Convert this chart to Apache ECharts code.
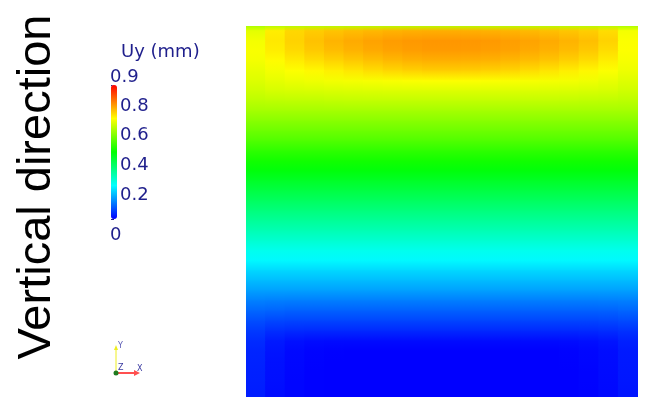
<!DOCTYPE html>
<html>
<head>
<meta charset="utf-8">
<script src="https://cdn.jsdelivr.net/npm/echarts@6/dist/echarts.min.js"></script>
<style>
  html, body { margin: 0; padding: 0; background: #ffffff; }
  #chart { width: 654px; height: 398px; }
</style>
</head>
<body>
<div id="chart"></div>
<script>
// Vertical displacement Uy (mm) sampled on 20 columns across the block and 39 heights,
// listed from the top face (height 1) down to the bottom face (height 0).
const xCells = ['0.025','0.075','0.125','0.175','0.225','0.275','0.325','0.375','0.425','0.475',
                '0.525','0.575','0.625','0.675','0.725','0.775','0.825','0.875','0.925','0.975'];
const yRows = [1.000, 0.987, 0.960, 0.933, 0.906, 0.879, 0.852, 0.825, 0.798, 0.771,
               0.744, 0.717, 0.690, 0.663, 0.636, 0.609, 0.582, 0.555, 0.528, 0.501,
               0.474, 0.447, 0.420, 0.394, 0.367, 0.340, 0.313, 0.286, 0.259, 0.232,
               0.205, 0.178, 0.151, 0.124, 0.097, 0.070, 0.043, 0.016, 0.000];
const uy = [
  [0.60,0.61,0.61,0.61,0.61,0.61,0.61,0.61,0.61,0.61,0.61,0.61,0.61,0.61,0.61,0.61,0.61,0.61,0.61,0.60],
  [0.65,0.69,0.71,0.72,0.727,0.733,0.738,0.742,0.745,0.746,0.746,0.745,0.743,0.74,0.736,0.731,0.725,0.718,0.705,0.665],
  [0.665,0.695,0.715,0.73,0.742,0.75,0.757,0.762,0.766,0.768,0.768,0.767,0.765,0.761,0.756,0.75,0.742,0.732,0.715,0.672],
  [0.67,0.69,0.708,0.722,0.733,0.742,0.75,0.756,0.761,0.763,0.763,0.762,0.76,0.756,0.75,0.743,0.734,0.723,0.705,0.673],
  [0.665,0.678,0.692,0.703,0.713,0.722,0.73,0.737,0.742,0.745,0.745,0.744,0.742,0.738,0.732,0.725,0.716,0.705,0.69,0.668],
  [0.655,0.665,0.673,0.68,0.688,0.696,0.704,0.71,0.715,0.718,0.718,0.717,0.715,0.711,0.705,0.698,0.69,0.682,0.672,0.66],
  [0.645,0.653,0.658,0.662,0.665,0.667,0.669,0.671,0.672,0.673,0.673,0.673,0.672,0.671,0.669,0.667,0.665,0.662,0.656,0.647],
  [0.632,0.638,0.64,0.641,0.642,0.643,0.644,0.645,0.645,0.645,0.645,0.645,0.645,0.645,0.644,0.643,0.642,0.641,0.639,0.633],
  [0.615,0.617,0.618,0.618,0.619,0.62,0.62,0.62,0.62,0.62,0.62,0.62,0.62,0.62,0.62,0.62,0.619,0.618,0.617,0.615],
  [0.595,0.595,0.595,0.595,0.595,0.595,0.595,0.595,0.595,0.595,0.595,0.595,0.595,0.595,0.595,0.595,0.595,0.595,0.595,0.595],
  [0.57,0.57,0.57,0.57,0.57,0.57,0.57,0.57,0.57,0.57,0.57,0.57,0.57,0.57,0.57,0.57,0.57,0.57,0.57,0.57],
  [0.545,0.545,0.545,0.545,0.545,0.545,0.545,0.545,0.545,0.545,0.545,0.545,0.545,0.545,0.545,0.545,0.545,0.545,0.545,0.545],
  [0.52,0.52,0.52,0.52,0.52,0.52,0.52,0.52,0.52,0.52,0.52,0.52,0.52,0.52,0.52,0.52,0.52,0.52,0.52,0.52],
  [0.49,0.49,0.49,0.49,0.49,0.49,0.49,0.49,0.49,0.49,0.49,0.49,0.49,0.49,0.49,0.49,0.49,0.49,0.49,0.49],
  [0.465,0.465,0.465,0.465,0.465,0.465,0.465,0.465,0.465,0.465,0.465,0.465,0.465,0.465,0.465,0.465,0.465,0.465,0.465,0.465],
  [0.44,0.44,0.44,0.44,0.44,0.44,0.44,0.44,0.44,0.44,0.44,0.44,0.44,0.44,0.44,0.44,0.44,0.44,0.44,0.44],
  [0.415,0.415,0.415,0.415,0.415,0.415,0.415,0.415,0.415,0.415,0.415,0.415,0.415,0.415,0.415,0.415,0.415,0.415,0.415,0.415],
  [0.39,0.39,0.39,0.39,0.39,0.39,0.39,0.39,0.39,0.39,0.39,0.39,0.39,0.39,0.39,0.39,0.39,0.39,0.39,0.39],
  [0.365,0.365,0.365,0.365,0.365,0.365,0.365,0.365,0.365,0.365,0.365,0.365,0.365,0.365,0.365,0.365,0.365,0.365,0.365,0.365],
  [0.34,0.34,0.34,0.34,0.34,0.34,0.34,0.34,0.34,0.34,0.34,0.34,0.34,0.34,0.34,0.34,0.34,0.34,0.34,0.34],
  [0.315,0.315,0.315,0.315,0.315,0.315,0.315,0.315,0.315,0.315,0.315,0.315,0.315,0.315,0.315,0.315,0.315,0.315,0.315,0.315],
  [0.29,0.29,0.29,0.29,0.29,0.29,0.29,0.29,0.29,0.29,0.29,0.29,0.29,0.29,0.29,0.29,0.29,0.29,0.29,0.29],
  [0.265,0.265,0.265,0.265,0.265,0.265,0.265,0.265,0.265,0.265,0.265,0.265,0.265,0.265,0.265,0.265,0.265,0.265,0.265,0.265],
  [0.24,0.24,0.24,0.24,0.24,0.24,0.24,0.24,0.24,0.24,0.24,0.24,0.24,0.24,0.24,0.24,0.24,0.24,0.24,0.24],
  [0.22,0.22,0.22,0.22,0.22,0.22,0.22,0.22,0.22,0.22,0.22,0.22,0.22,0.22,0.22,0.22,0.22,0.22,0.22,0.22],
  [0.19,0.19,0.19,0.19,0.19,0.19,0.19,0.19,0.19,0.19,0.19,0.19,0.19,0.19,0.19,0.19,0.19,0.19,0.19,0.19],
  [0.165,0.165,0.165,0.165,0.165,0.165,0.165,0.165,0.165,0.165,0.165,0.165,0.165,0.165,0.165,0.165,0.165,0.165,0.165,0.165],
  [0.14,0.14,0.14,0.14,0.14,0.14,0.14,0.14,0.14,0.14,0.14,0.14,0.14,0.14,0.14,0.14,0.14,0.14,0.14,0.14],
  [0.113,0.111,0.11,0.11,0.11,0.11,0.11,0.11,0.11,0.11,0.11,0.11,0.11,0.11,0.11,0.11,0.11,0.11,0.111,0.112],
  [0.09,0.087,0.085,0.085,0.085,0.085,0.085,0.085,0.085,0.085,0.085,0.085,0.085,0.085,0.085,0.085,0.085,0.085,0.086,0.089],
  [0.068,0.062,0.06,0.06,0.06,0.06,0.06,0.06,0.06,0.06,0.06,0.06,0.06,0.06,0.06,0.06,0.06,0.06,0.062,0.065],
  [0.05,0.04,0.036,0.035,0.035,0.035,0.035,0.035,0.035,0.035,0.035,0.035,0.035,0.035,0.035,0.035,0.035,0.036,0.039,0.043],
  [0.038,0.022,0.014,0.011,0.01,0.01,0.01,0.01,0.01,0.01,0.01,0.01,0.01,0.01,0.01,0.01,0.011,0.013,0.018,0.028],
  [0.032,0.017,0.007,0.003,0.001,0,0,0,0,0,0,0,0,0,0,0,0.002,0.005,0.011,0.022],
  [0.03,0.014,0.006,0.002,0,0,0,0,0,0,0,0,0,0,0,0,0.001,0.004,0.01,0.021],
  [0.028,0.013,0.005,0.001,0,0,0,0,0,0,0,0,0,0,0,0,0,0.003,0.009,0.02],
  [0.027,0.012,0.004,0.001,0,0,0,0,0,0,0,0,0,0,0,0,0,0.003,0.008,0.019],
  [0.026,0.011,0.004,0.001,0,0,0,0,0,0,0,0,0,0,0,0,0,0.002,0.007,0.018],
  [0.026,0.011,0.004,0.001,0,0,0,0,0,0,0,0,0,0,0,0,0,0.002,0.007,0.018]
];

// Colour legend: range and labelled ticks of the scalar bar.
const uyRange = [0, 0.9];
const barTicks = [0, 0.2, 0.4, 0.6, 0.8, 0.9];
const rainbow = ['#0000ff', '#00ffff', '#00ff00', '#ffff00', '#ff0000'];

const legendTitle = 'Uy (mm)';
const sideTitle = 'Vertical direction';
const ink = '#1f1f8c';

// One band per column between two neighbouring sample heights:
// [column, upper height, Uy there, lower height, Uy there]
const bands = [];
for (let j = 0; j < yRows.length - 1; j++) {
  for (let i = 0; i < xCells.length; i++) {
    bands.push([i, yRows[j], uy[j][i], yRows[j + 1], uy[j + 1][i]]);
  }
}

const rampColor = (v) =>
  echarts.color.lerp((v - uyRange[0]) / (uyRange[1] - uyRange[0]), rainbow);

function renderBand(params, api) {
  const col = api.value(0);
  const top = api.coord([col, api.value(1)]);
  const bottom = api.coord([col, api.value(3)]);
  const w = api.size([1, 0])[0];
  return {
    type: 'rect',
    shape: { x: top[0] - w / 2 - 0.5, y: top[1] - 0.5, width: w + 1, height: bottom[1] - top[1] + 1 },
    style: {
      fill: new echarts.graphic.LinearGradient(0, 0, 0, 1, [
        { offset: 0, color: api.visual('color') },
        { offset: 1, color: rampColor(api.value(4)) }
      ])
    }
  };
}

const chart = echarts.init(document.getElementById('chart'), null, { renderer: 'canvas' });

chart.setOption({
  animation: false,
  backgroundColor: '#ffffff',
  grid: [
    { left: 246, top: 26, width: 392, height: 371 },
    { left: 111, top: 85, width: 6, height: 134 }
  ],
  xAxis: [
    { type: 'category', data: xCells, gridIndex: 0, show: false },
    { type: 'value', gridIndex: 1, show: false, min: 0, max: 1 }
  ],
  yAxis: [
    { type: 'value', gridIndex: 0, show: false, min: 0, max: 1 },
    {
      type: 'value', gridIndex: 1, position: 'right',
      min: uyRange[0], max: uyRange[1], interval: 0.2,
      axisLine: { show: false },
      splitLine: { show: false },
      axisTick: { show: true, inside: false, length: 3, lineStyle: { color: ink, width: 1 } },
      minorTick: { show: true, splitNumber: 4, length: 2, lineStyle: { color: ink, width: 1 } },
      axisLabel: {
        show: true, margin: 3, color: ink,
        fontFamily: 'DejaVu Sans', fontSize: 18,
        verticalAlign: 'top', lineHeight: 12,
        showMinLabel: false, showMaxLabel: false,
        formatter: (v) => (barTicks.indexOf(v) > 0 && v < uyRange[1]) ? String(v) : ''
      }
    }
  ],
  visualMap: {
    type: 'continuous',
    seriesIndex: 0,
    dimension: 2,
    min: uyRange[0], max: uyRange[1],
    calculable: false,
    hoverLink: false,
    orient: 'vertical',
    left: 111, top: 85,
    padding: 0,
    itemWidth: 6, itemHeight: 134,
    text: null,
    showLabel: false,
    inRange: { color: rainbow }
  },
  series: [{
    type: 'custom',
    xAxisIndex: 0, yAxisIndex: 0,
    data: bands,
    renderItem: renderBand,
    encode: { x: 0, y: [1, 3] },
    silent: true,
    clip: true
  }],
  graphic: [
    {
      type: 'text', x: 37, y: 187, rotation: Math.PI / 2,
      style: { text: sideTitle, x: 0, y: 0, textAlign: 'center', textVerticalAlign: 'middle',
               font: '47px "Liberation Sans", Arial, sans-serif', fill: '#000000' }
    },
    {
      type: 'text', x: 121, y: 52,
      style: { text: legendTitle, textAlign: 'left', textVerticalAlign: 'middle',
               font: '18px "DejaVu Sans", sans-serif', fill: ink }
    },
    {
      type: 'text', x: 110, y: 77,
      style: { text: String(barTicks[barTicks.length - 1]), textAlign: 'left', textVerticalAlign: 'middle',
               font: '18px "DejaVu Sans", sans-serif', fill: ink }
    },
    {
      type: 'text', x: 110, y: 235,
      style: { text: String(barTicks[0]), textAlign: 'left', textVerticalAlign: 'middle',
               font: '18px "DejaVu Sans", sans-serif', fill: ink }
    },
    // orientation triad
    { type: 'line', shape: { x1: 116, y1: 373, x2: 116, y2: 348 }, style: { stroke: '#eeee20', lineWidth: 1 } },
    { type: 'polygon', shape: { points: [[114, 350], [118, 350], [116, 345]] }, style: { fill: '#eeee20' } },
    { type: 'line', shape: { x1: 117, y1: 373, x2: 136, y2: 373 }, style: { stroke: '#ff5050', lineWidth: 2 } },
    { type: 'polygon', shape: { points: [[134, 370], [134, 376], [140, 373]] }, style: { fill: '#ff5050' } },
    { type: 'circle', shape: { cx: 116, cy: 373, r: 2.5 }, style: { fill: '#1f7a1f' } },
    { type: 'text', x: 118, y: 346, style: { text: 'Y', font: '8px "DejaVu Sans", sans-serif', fill: '#5a5ab4', textVerticalAlign: 'middle' } },
    { type: 'text', x: 118, y: 368, style: { text: 'Z', font: '8px "DejaVu Sans", sans-serif', fill: '#3a3aa0', textVerticalAlign: 'middle' } },
    { type: 'text', x: 137, y: 369, style: { text: 'X', font: '8px "DejaVu Sans", sans-serif', fill: '#3a3aa0', textVerticalAlign: 'middle' } }
  ]
});
</script>
</body>
</html>
